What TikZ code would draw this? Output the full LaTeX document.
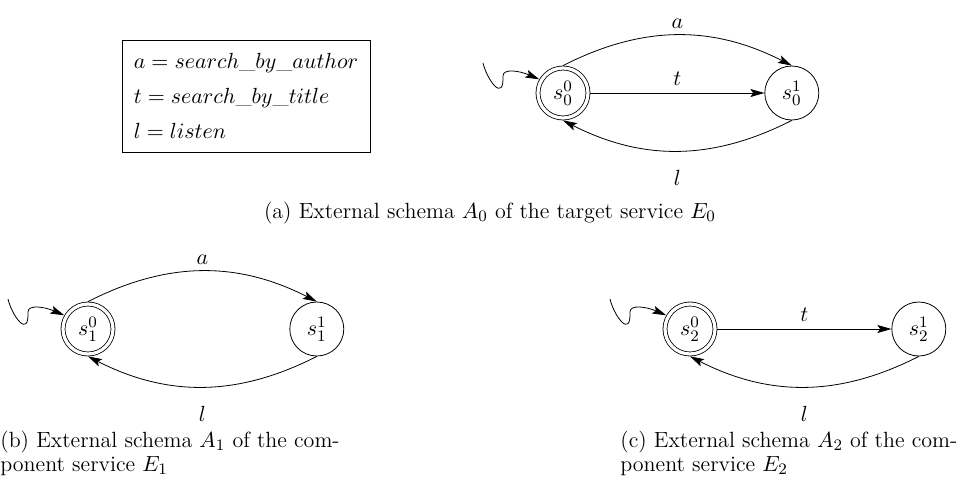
\documentclass[tikz,border=0pt]{standalone}
\usepackage{amsmath}
\usepackage{amssymb}
\usepackage{tikz}
\usetikzlibrary{arrows.meta, positioning}

\begin{document}
\begin{tikzpicture}[>={Stealth[length=7pt, width=4pt, inset=1.4pt]}, x=0.5pt, y=0.5pt, node distance=87pt,
    font=\fontsize{11}{12}\selectfont,
    stnode/.style={circle, draw, minimum size=27pt, inner sep=0pt},
    accnode/.style={circle, draw, double, double distance=1.6pt, minimum size=25pt, inner sep=0pt, outer sep=1.2pt}]
  \useasboundingbox (0,0) rectangle (971,-489);
  % legend of the actions
  \node[draw, minimum width=124pt, minimum height=56pt, align=left] (key) at (246,-96)
    {$a = search\_by\_author$\\[5.5pt] $t = search\_by\_title$\\[5.5pt] $l = listen$};
  % target service
  \node[accnode] (s00) at (563,-93) {$s_0^0$};
  \node[stnode, right=of s00] (s01) {$s_0^1$};
  \coordinate (i0) at ([shift={(-80,30)}]s00.center);
  \draw[->] (i0) .. controls ([shift={(4,-17)}]i0) and ([shift={(21,-40)}]i0) .. ([shift={(20,-13)}]i0)
    .. controls ([shift={(20,-5)}]i0) and ([shift={(37,-8)}]i0) .. (s00.150);
  \draw[->] (s00.north) to[out=27, in=153] node[above] {$a$} (s01.north);
  \draw[->] (s00) -- node[above] {$t$} (s01);
  \draw[->] (s01.south) to[out=-153, in=-27] node[below=6pt] {$l$} (s00.south);
  \node (cap0) at (490,-213) {(a) External schema $A_0$ of the target service $E_0$};
  % component service 1
  \node[accnode] (s10) at (88,-329) {$s_1^0$};
  \node[stnode, right=of s10] (s11) {$s_1^1$};
  \coordinate (i1) at ([shift={(-80,30)}]s10.center);
  \draw[->] (i1) .. controls ([shift={(4,-17)}]i1) and ([shift={(21,-40)}]i1) .. ([shift={(20,-13)}]i1)
    .. controls ([shift={(20,-5)}]i1) and ([shift={(37,-8)}]i1) .. (s10.150);
  \draw[->] (s10.north) to[out=27, in=153] node[above] {$a$} (s11.north);
  \draw[->] (s11.south) to[out=-153, in=-27] node[below=6pt] {$l$} (s10.south);
  \node[anchor=west, align=left, inner sep=0pt] (cap1) at (0,-453)
    {(b) External schema $A_1$ of the com-\\ponent service $E_1$};
  % component service 2
  \node[accnode] (s20) at (690,-329) {$s_2^0$};
  \node[stnode, right=of s20] (s21) {$s_2^1$};
  \coordinate (i2) at ([shift={(-80,30)}]s20.center);
  \draw[->] (i2) .. controls ([shift={(4,-17)}]i2) and ([shift={(21,-40)}]i2) .. ([shift={(20,-13)}]i2)
    .. controls ([shift={(20,-5)}]i2) and ([shift={(37,-8)}]i2) .. (s20.150);
  \draw[->] (s20) -- node[above] {$t$} (s21);
  \draw[->] (s21.south) to[out=-153, in=-27] node[below=6pt] {$l$} (s20.south);
  \node[anchor=west, align=left, inner sep=0pt] (cap2) at (620,-453)
    {(c) External schema $A_2$ of the com-\\ponent service $E_2$};
\end{tikzpicture}
\end{document}
